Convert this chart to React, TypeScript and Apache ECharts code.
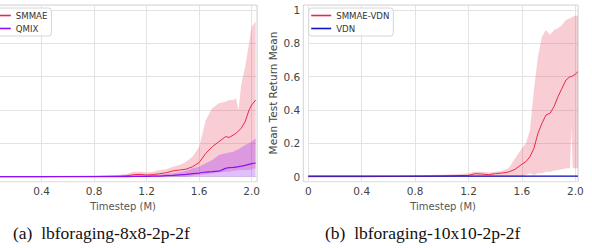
import React, { useEffect, useRef } from "react";
import * as echarts from "echarts";

// ---- Data: (a) lbforaging-8x8-2p-2f ----
const XS_A = [0, 0.2, 0.4, 0.6, 0.8, 0.9, 1.0, 1.05, 1.1, 1.15, 1.2, 1.25, 1.3, 1.35, 1.4, 1.45, 1.5, 1.55, 1.6, 1.65, 1.7, 1.75, 1.8, 1.83, 1.86, 1.88, 1.9, 1.92, 1.95, 1.98, 2.0, 2.03];
const SMMAE_A = [0, 0, 0, 0.001, 0.001, 0.002, 0.004, 0.006, 0.012, 0.014, 0.01, 0.013, 0.018, 0.024, 0.035, 0.04, 0.045, 0.06, 0.085, 0.14, 0.18, 0.21, 0.24, 0.236, 0.25, 0.26, 0.275, 0.29, 0.33, 0.4, 0.43, 0.46];
const SMMAE_A_UP = [0.002, 0.003, 0.004, 0.006, 0.008, 0.01, 0.012, 0.016, 0.03, 0.03, 0.025, 0.03, 0.04, 0.045, 0.06, 0.07, 0.09, 0.12, 0.18, 0.34, 0.41, 0.44, 0.45, 0.46, 0.46, 0.47, 0.4, 0.55, 0.66, 0.8, 0.9, 0.93];
const SMMAE_A_LO = [0, 0, 0, 0, 0, 0, 0, 0, 0, 0, 0, 0, 0, 0, 0, 0, 0, 0.005, 0.01, 0.015, 0.02, 0.025, 0.03, 0.03, 0.035, 0.035, 0.04, 0.04, 0.04, 0.04, 0.045, 0.05];
const QMIX_A = [0, 0, 0, 0, 0.001, 0.001, 0.001, 0.001, 0.002, 0.002, 0.002, 0.003, 0.004, 0.006, 0.008, 0.011, 0.014, 0.018, 0.022, 0.028, 0.03, 0.033, 0.05, 0.055, 0.056, 0.058, 0.06, 0.063, 0.068, 0.074, 0.078, 0.082];
const QMIX_A_UP = [0.003, 0.003, 0.003, 0.004, 0.004, 0.005, 0.005, 0.006, 0.007, 0.008, 0.008, 0.01, 0.012, 0.016, 0.02, 0.027, 0.035, 0.05, 0.06, 0.08, 0.1, 0.13, 0.14, 0.145, 0.15, 0.158, 0.165, 0.175, 0.19, 0.2, 0.21, 0.23];
const QMIX_A_LO = [0, 0, 0, 0, 0, 0, 0, 0, 0, 0, 0, 0, 0, 0, 0, 0, 0, 0, 0, 0, 0, 0, 0, 0, 0, 0, 0, 0, 0, 0, 0, 0];

// ---- Data: (b) lbforaging-10x10-2p-2f ----
const XS_B = [0, 0.2, 0.4, 0.6, 0.8, 1.0, 1.1, 1.2, 1.25, 1.3, 1.35, 1.4, 1.45, 1.5, 1.55, 1.6, 1.63, 1.66, 1.69, 1.72, 1.75, 1.78, 1.81, 1.84, 1.87, 1.9, 1.93, 1.96, 1.97, 1.98, 2.0, 2.02];
const SV_B = [0, 0, 0, 0.001, 0.002, 0.004, 0.006, 0.008, 0.018, 0.016, 0.012, 0.018, 0.022, 0.028, 0.045, 0.075, 0.09, 0.12, 0.17, 0.26, 0.32, 0.37, 0.38, 0.42, 0.48, 0.53, 0.58, 0.6, 0.6, 0.605, 0.615, 0.63];
const SV_B_UP = [0.005, 0.005, 0.005, 0.006, 0.008, 0.012, 0.015, 0.02, 0.03, 0.03, 0.025, 0.03, 0.035, 0.05, 0.11, 0.17, 0.2, 0.28, 0.52, 0.72, 0.84, 0.88, 0.85, 0.88, 0.89, 0.91, 0.94, 0.95, 0.955, 0.96, 0.965, 0.965];
const SV_B_LO = [0, 0, 0, 0, 0, 0, 0, 0, 0, 0, 0, 0, 0, 0, 0, 0, 0.01, 0.02, 0.01, 0.02, 0.02, 0.03, 0.03, 0.035, 0.04, 0.045, 0.05, 0.05, 0.3, 0.05, 0.05, 0.05];
const VDN_B = [0.003, 0.003, 0.003, 0.003, 0.003, 0.003, 0.003, 0.003, 0.003, 0.003, 0.003, 0.003, 0.003, 0.003, 0.003, 0.003, 0.003, 0.003, 0.003, 0.003, 0.003, 0.003, 0.003, 0.003, 0.003, 0.003, 0.003, 0.003, 0.003, 0.003, 0.003, 0.003];
const VDN_B_UP = [0.006, 0.006, 0.006, 0.006, 0.006, 0.006, 0.006, 0.006, 0.006, 0.006, 0.006, 0.006, 0.006, 0.006, 0.006, 0.006, 0.006, 0.006, 0.006, 0.006, 0.006, 0.006, 0.006, 0.006, 0.006, 0.006, 0.006, 0.006, 0.006, 0.006, 0.006, 0.006];
const VDN_B_LO = [0, 0, 0, 0, 0, 0, 0, 0, 0, 0, 0, 0, 0, 0, 0, 0, 0, 0, 0, 0, 0, 0, 0, 0, 0, 0, 0, 0, 0, 0, 0, 0];

// Tick labels (the left panel's "0" lies outside the cropped figure)
const X_TICKS_A = [0.4, 0.8, 1.2, 1.6, 2.0];
const X_TICKS_B = [0, 0.4, 0.8, 1.2, 1.6, 2.0];
const Y_TICKS = [0, 0.2, 0.4, 0.6, 0.8, 1];

const zip = (xs: number[], ys: number[]) => xs.map((x, i) => [x, ys[i]]);

const FONT = "DejaVu Sans";

function band(name: string, xs: number[], lo: number[], up: number[], color: string, axis: number) {
  return {
    type: "custom",
    name: name + " band",
    coordinateSystem: "cartesian2d",
    xAxisIndex: axis,
    yAxisIndex: axis,
    silent: true,
    data: zip(xs, up),
    renderItem: (params: any, api: any) => {
      if (params.dataIndex !== 0) return null;
      const pts: number[][] = [];
      for (let i = 0; i < xs.length; i++) pts.push(api.coord([xs[i], up[i]]));
      for (let i = xs.length - 1; i >= 0; i--) pts.push(api.coord([xs[i], lo[i]]));
      return { type: "polygon", shape: { points: pts }, style: { fill: color } };
    },
    z: 1,
  };
}

function line(name: string, xs: number[], ys: number[], color: string, width: number, axis: number) {
  return {
    type: "line",
    name,
    xAxisIndex: axis,
    yAxisIndex: axis,
    data: zip(xs, ys),
    symbol: "none",
    color,
    lineStyle: { color, width },
    z: 5,
  };
}

const xLabelFor = (ticks: number[]) => (v: number) => {
  const hit = ticks.find((t) => Math.abs(t - v) < 1e-6);
  if (hit === undefined) return "";
  return hit === 0 ? "0" : hit.toFixed(1);
};
const yLabel = (v: number) => {
  const hit = Y_TICKS.find((t) => Math.abs(t - v) < 1e-6);
  if (hit === undefined) return "";
  return hit === 0 ? "0" : hit === 1 ? "1" : hit.toFixed(1);
};

function xAxis(gridIndex: number, max: number, ticks: number[]) {
  return {
    type: "value",
    gridIndex,
    min: 0,
    max,
    interval: 0.4,
    name: "Timestep (M)",
    nameLocation: "middle",
    nameGap: 14,
    nameTextStyle: { fontFamily: FONT, fontSize: 10, color: "#555" },
    axisLine: { show: false },
    axisTick: { show: false },
    axisLabel: { formatter: xLabelFor(ticks), margin: 4, fontFamily: FONT, fontSize: 10.5, color: "#444" },
    splitLine: { lineStyle: { color: "#e3e3e3", width: 1 } },
  };
}

function yAxis(gridIndex: number, showLabels: boolean) {
  return {
    type: "value",
    gridIndex,
    min: -0.03,
    max: 1.03,
    splitNumber: 5,
    axisLine: { show: false },
    axisTick: { show: false },
    axisLabel: { show: showLabels, formatter: yLabel, margin: 8, fontFamily: FONT, fontSize: 10.5, color: "#444" },
    splitLine: { lineStyle: { color: "#e3e3e3", width: 1 } },
  };
}

function legend(names: string[], left: number) {
  return {
    data: names,
    orient: "vertical",
    left,
    top: 8,
    icon: "rect",
    itemWidth: 20,
    itemHeight: 1.6,
    itemGap: 3,
    padding: [2.5, 4, 2.5, 2.5],
    textStyle: { fontFamily: FONT, fontSize: 8.6, color: "#333", lineHeight: 10 },
    backgroundColor: "rgba(255,255,255,0.8)",
    borderColor: "#d6d6d6",
    borderWidth: 1,
    borderRadius: 3,
  };
}

export default function App() {
  const ref = useRef<HTMLDivElement>(null);
  useEffect(() => {
    if (!ref.current) return;
    const chart = echarts.init(ref.current, undefined, { renderer: "svg" });
    const RED = "#e8294a";
    const PURPLE = "#8a10f5";
    const BLUE = "#1414c8";
    const PINK = "rgba(232,48,74,0.24)";
    const LILAC = "rgba(136,0,255,0.25)";
    chart.setOption({
      animation: false,
      backgroundColor: "#ffffff",
      grid: [
        { left: -10.8, top: 5, width: 267.75, height: 176.7, outerBoundsMode: "none", containLabel: false },
        { left: 308.3, top: 5, width: 269.7, height: 176.7, outerBoundsMode: "none", containLabel: false },
      ],
      xAxis: [xAxis(0, 2.04, X_TICKS_A), xAxis(1, 2.02, X_TICKS_B)],
      yAxis: [yAxis(0, false), yAxis(1, true)],
      legend: [legend(["SMMAE", "QMIX"], -11.7), legend(["SMMAE-VDN", "VDN"], 308.7)],
      series: [
        band("SMMAE", XS_A, SMMAE_A_LO, SMMAE_A_UP, PINK, 0),
        band("QMIX", XS_A, QMIX_A_LO, QMIX_A_UP, LILAC, 0),
        line("SMMAE", XS_A, SMMAE_A, RED, 1, 0),
        line("QMIX", XS_A, QMIX_A, PURPLE, 1.2, 0),
        band("SMMAE-VDN", XS_B, SV_B_LO, SV_B_UP, PINK, 1),
        band("VDN", XS_B, VDN_B_LO, VDN_B_UP, "rgba(20,20,200,0.2)", 1),
        line("SMMAE-VDN", XS_B, SV_B, RED, 1, 1),
        line("VDN", XS_B, VDN_B, BLUE, 1.2, 1),
      ],
      graphic: [
        {
          type: "rect",
          shape: { x: -14, y: 5, width: 271, height: 176.7 },
          style: { fill: "none", stroke: "#d4d4d4", lineWidth: 1 },
          silent: true,
        },
        {
          type: "rect",
          shape: { x: 303.3, y: 5, width: 274.7, height: 176.7 },
          style: { fill: "none", stroke: "#d4d4d4", lineWidth: 1 },
          silent: true,
        },
        {
          type: "text",
          x: 273,
          y: 93,
          rotation: Math.PI / 2,
          style: {
            text: "Mean Test Return Mean",
            fontFamily: FONT,
            fontSize: 10.5,
            fill: "#444",
            textAlign: "center",
            textVerticalAlign: "middle",
          },
        },
        {
          type: "text",
          x: 13,
          y: 233,
          style: {
            text: "(a)  lbforaging-8x8-2p-2f",
            fontFamily: "Liberation Serif",
            fontSize: 17.5,
            fill: "#111",
            textAlign: "left",
            textVerticalAlign: "middle",
          },
        },
        {
          type: "text",
          x: 325,
          y: 233,
          style: {
            text: "(b)  lbforaging-10x10-2p-2f",
            fontFamily: "Liberation Serif",
            fontSize: 17.5,
            fill: "#111",
            textAlign: "left",
            textVerticalAlign: "middle",
          },
        },
      ],
    });
    return () => chart.dispose();
  }, []);
  return (
    <div
      ref={ref}
      style={{ position: "fixed", left: 0, top: 0, width: 592, height: 248, background: "#fff" }}
    />
  );
}
